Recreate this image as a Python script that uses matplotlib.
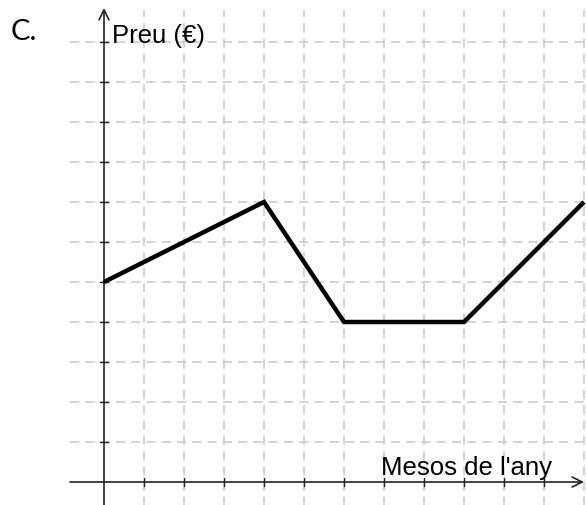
import matplotlib
matplotlib.use("Agg")
import matplotlib.pyplot as plt
import numpy as np

# Data
months = [0, 4, 6, 9, 12]
prices = [5, 7, 4, 4, 7]
x_label = "Mesos de l'any"
y_label = "Preu (€)"
panel_label = "C."

fig = plt.figure(figsize=(5.86, 5.05), dpi=100)
ax = fig.add_axes([0, 0, 1, 1])
ax.set_xlim(-2.6, 12.05)
ax.set_ylim(-0.575, 12.05)
ax.axis('off')

grid_kw = dict(color='#c8c8c8', lw=1.1, dashes=(6, 4), zorder=1)
for gx in range(1, 13):
    ax.plot([gx, gx], [-0.6, 11.8], **grid_kw)
for gy in range(1, 12):
    ax.plot([-0.85, 12.1], [gy, gy], **grid_kw)

# axes with arrows
ax.annotate('', xy=(12.0, 0), xytext=(-0.85, 0),
            arrowprops=dict(arrowstyle='->', lw=1.2, color='#222222',
                            mutation_scale=18, shrinkA=0, shrinkB=0), zorder=3)
ax.annotate('', xy=(0, 11.85), xytext=(0, -0.6),
            arrowprops=dict(arrowstyle='->', lw=1.2, color='#222222',
                            mutation_scale=18, shrinkA=0, shrinkB=0), zorder=3)
for gx in range(1, 12):
    ax.plot([gx, gx], [-0.09, 0.09], color='#222222', lw=1.0, zorder=3)
for gy in range(1, 12):
    ax.plot([-0.09, 0.09], [gy, gy], color='#222222', lw=1.0, zorder=3)

ax.plot(months, prices, color='black', lw=3.2, solid_joinstyle='miter',
        solid_capstyle='butt', zorder=4)

ax.text(0.2, 11.15, y_label, fontsize=18.5, family='Liberation Sans',
        va='center', ha='left', zorder=5)
ax.text(11.2, 0.17, x_label, fontsize=18.5, family='Liberation Sans',
        va='baseline', ha='right', zorder=5)
fig.text(11/586, 1 - 32/505, panel_label, fontsize=21, family='Lato',
         va='center', ha='left')

fig.savefig('out.png', dpi=100, facecolor='white')
